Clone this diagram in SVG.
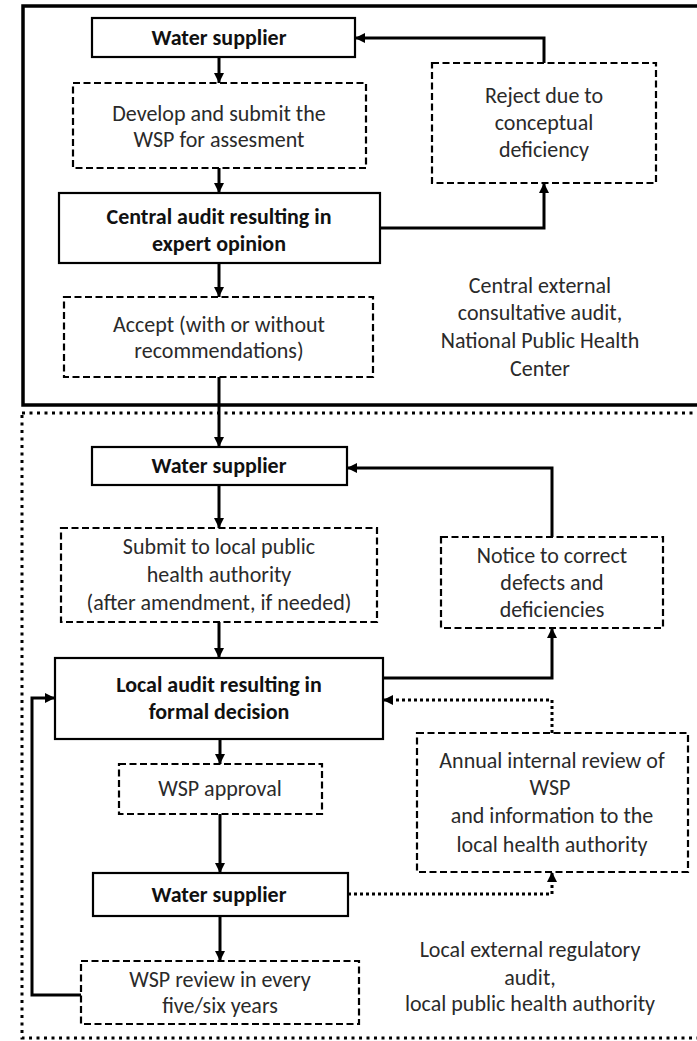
<svg xmlns="http://www.w3.org/2000/svg" width="697" height="1041" viewBox="0 0 697 1041">
<defs>
<marker id="ah" markerUnits="userSpaceOnUse" markerWidth="11" markerHeight="10" refX="10" refY="5" orient="auto">
<path d="M0,0 L10,5 L0,10 z" fill="#000"/>
</marker>
<style>
.t{font-family:Carlito,Calibri,Lato,"Liberation Sans",sans-serif;font-size:22px;fill:#2a2a2a;text-anchor:middle}
.b{font-weight:bold;fill:#111}
.solid{fill:#fff;stroke:#000;stroke-width:2.2}
.dash{fill:#fff;stroke:#000;stroke-width:2.2;stroke-dasharray:7 3.5}
.c{fill:none;stroke:#000;stroke-width:3}
.d{fill:none;stroke:#000;stroke-width:3;stroke-dasharray:3 3}
</style>
</defs>
<rect width="697" height="1041" fill="#fff"/>
<g id="frames">
<rect x="23" y="6" width="690" height="399" fill="none" stroke="#000" stroke-width="3.5"/>
<rect x="22" y="413" width="690" height="625" fill="none" stroke="#000" stroke-width="3" stroke-dasharray="3 4.5"/>
</g>
<g id="connectors">
<path class="c" d="M219,57 V83" marker-end="url(#ah)"/>
<path class="c" d="M219,168 V193" marker-end="url(#ah)"/>
<path class="c" d="M380,228 H544 V183" marker-end="url(#ah)"/>
<path class="c" d="M544,63 V38 H355" marker-end="url(#ah)"/>
<path class="c" d="M219,263 V297" marker-end="url(#ah)"/>
<path class="c" d="M219,377 V447" marker-end="url(#ah)"/>
<path class="c" d="M219,485 V528" marker-end="url(#ah)"/>
<path class="c" d="M552,537 V468 H347" marker-end="url(#ah)"/>
<path class="c" d="M219,622 V658" marker-end="url(#ah)"/>
<path class="c" d="M383,678 H552 V628" marker-end="url(#ah)"/>
<path class="d" d="M552,733 V700 H383" marker-end="url(#ah)"/>
<path class="c" d="M220,739 V764" marker-end="url(#ah)"/>
<path class="c" d="M220,814 V873" marker-end="url(#ah)"/>
<path class="d" d="M348,894 H552 V872" marker-end="url(#ah)"/>
<path class="c" d="M220,916 V961" marker-end="url(#ah)"/>
<path class="c" d="M81,995 H32 V698 H55" marker-end="url(#ah)"/>
</g>
<g id="ws1"><rect class="solid" x="92" y="18" width="263" height="39"/><text class="t b" x="219" y="45">Water supplier</text></g>
<g id="develop"><rect class="dash" x="73" y="83" width="293" height="85"/><text class="t" x="219" y="121">Develop and submit the</text><text class="t" x="219" y="147">WSP for assesment</text></g>
<g id="central"><rect class="solid" x="59" y="193" width="321" height="70"/><text class="t b" x="219" y="224">Central audit resulting in</text><text class="t b" x="219" y="251">expert opinion</text></g>
<g id="reject"><rect class="dash" x="432" y="63" width="224" height="120"/><text class="t" x="544" y="103">Reject due to</text><text class="t" x="544" y="130">conceptual</text><text class="t" x="544" y="157">deficiency</text></g>
<g id="accept"><rect class="dash" x="64" y="297" width="309" height="80"/><text class="t" x="219" y="332">Accept (with or without</text><text class="t" x="219" y="358">recommendations)</text></g>
<g id="label-central"><text class="t" x="540" y="293">Central external</text><text class="t" x="540" y="320">consultative audit,</text><text class="t" x="540" y="348">National Public Health</text><text class="t" x="540" y="376">Center</text></g>
<g id="ws2"><rect class="solid" x="92" y="447" width="255" height="38"/><text class="t b" x="219" y="473">Water supplier</text></g>
<g id="submit"><rect class="dash" x="61" y="528" width="316" height="94"/><text class="t" x="219" y="554">Submit to local public</text><text class="t" x="219" y="582">health authority</text><text class="t" x="219" y="610">(after amendment, if needed)</text></g>
<g id="notice"><rect class="dash" x="441" y="537" width="222" height="91"/><text class="t" x="552" y="563">Notice to correct</text><text class="t" x="552" y="590">defects and</text><text class="t" x="552" y="617">deficiencies</text></g>
<g id="local"><rect class="solid" x="55" y="658" width="328" height="81"/><text class="t b" x="219" y="692">Local audit resulting in</text><text class="t b" x="219" y="719">formal decision</text></g>
<g id="annual"><rect class="dash" x="417" y="733" width="271" height="139"/><text class="t" x="552" y="768">Annual internal review of</text><text class="t" x="550" y="795">WSP</text><text class="t" x="552" y="823">and information to the</text><text class="t" x="552" y="852">local health authority</text></g>
<g id="approval"><rect class="dash" x="119" y="764" width="203" height="50"/><text class="t" x="220" y="796">WSP approval</text></g>
<g id="ws3"><rect class="solid" x="93" y="873" width="255" height="43"/><text class="t b" x="219" y="902">Water supplier</text></g>
<g id="review"><rect class="dash" x="81" y="961" width="278" height="63"/><text class="t" x="220" y="987">WSP review in every</text><text class="t" x="220" y="1013">five/six years</text></g>
<g id="label-local"><text class="t" x="530" y="957">Local external regulatory</text><text class="t" x="530" y="985">audit,</text><text class="t" x="530" y="1011">local public health authority</text></g>
</svg>
